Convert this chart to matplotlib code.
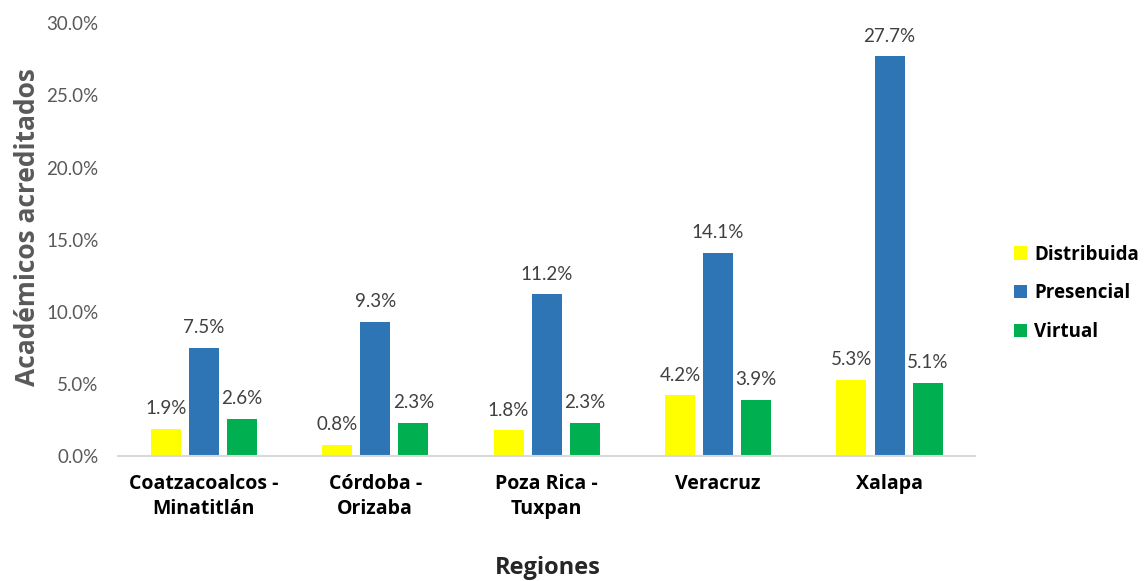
import matplotlib
matplotlib.use("Agg")
import matplotlib.pyplot as plt
import numpy as np
from matplotlib.ticker import PercentFormatter

plt.rcParams['font.family'] = ['Lato', 'DejaVu Sans']
bold_font = ['Open Sans', 'DejaVu Sans']

regiones = ["Coatzacoalcos -\nMinatitlán", "Córdoba -\nOrizaba", "Poza Rica -\nTuxpan", "Veracruz", "Xalapa"]
distribuida = [1.9, 0.8, 1.8, 4.2, 5.3]
presencial = [7.5, 9.3, 11.2, 14.1, 27.7]
virtual = [2.6, 2.3, 2.3, 3.9, 5.1]

series = [("Distribuida", distribuida, "#ffff00"),
          ("Presencial", presencial, "#2e75b6"),
          ("Virtual", virtual, "#00b050")]

fig = plt.figure(figsize=(11.46, 5.81), dpi=100)
ax = fig.add_axes([0.103, 0.215, 0.748, 0.745])

x = np.arange(len(regiones))
width = 0.175
offsets = [-0.222, 0, 0.222]
for (name, vals, color), off in zip(series, offsets):
    bars = ax.bar(x + off, vals, width, color=color, label=name)
    for b, v in zip(bars, vals):
        ax.text(b.get_x() + b.get_width() / 2, v + 0.8, "%.1f%%" % v,
                ha="center", va="bottom", fontsize=13.5, color="#404040")

ax.set_xlim(-0.5, 4.5)
ax.set_ylim(0, 30)
ax.set_yticks(np.arange(0, 31, 5))
ax.yaxis.set_major_formatter(PercentFormatter(decimals=1))
ax.set_xticks(x)
ax.set_xticklabels(regiones, fontsize=14, fontweight="bold", color="black",
                   family=bold_font, linespacing=1.3)
ax.tick_params(axis="y", labelsize=13.5, labelcolor="#595959", length=0, pad=14)
ax.tick_params(axis="x", length=0, pad=13)

for s in ["top", "right", "left"]:
    ax.spines[s].set_visible(False)
ax.spines["bottom"].set_color("#d9d9d9")
ax.spines["bottom"].set_linewidth(1.5)

ax.set_ylabel("Académicos acreditados", fontsize=19, fontweight="bold", color="#595959",
              family=bold_font, labelpad=4)
ax.yaxis.set_label_coords(-0.09, 0.53)
fig.text(0.478, 0.022, "Regiones", fontsize=17, fontweight="bold", color="#262626",
         ha="center", va="center", family=bold_font)

leg = ax.legend(loc="center left", bbox_to_anchor=(1.025, 0.376), frameon=False,
                prop={"size": 13.5, "weight": "bold", "family": bold_font},
                handlelength=0.7, handleheight=0.7, handletextpad=0.4, labelspacing=1.0)

fig.savefig("out.png", dpi=100)
